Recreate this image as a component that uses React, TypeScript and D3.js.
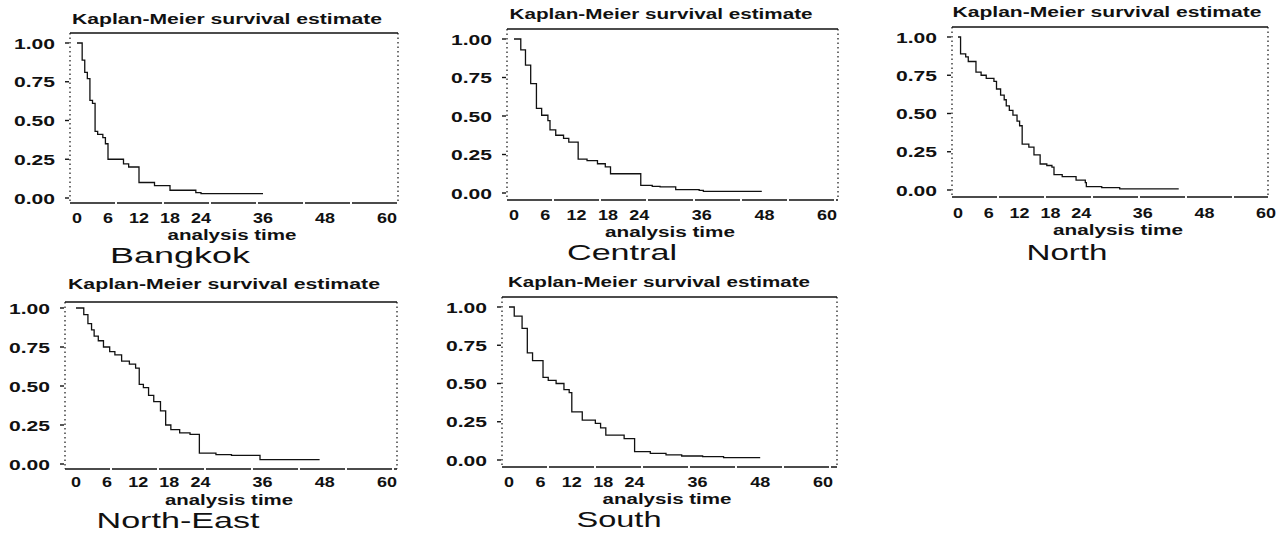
import React from "react";
import * as d3 from "d3";

// ---- data ----
const regions = ["Bangkok", "Central", "North", "North-East", "South"];
const xTickValues = [0, 6, 12, 18, 24, 36, 48, 60];
const yTickValues = [0, 0.25, 0.5, 0.75, 1];
const yTickLabels = ["0.00", "0.25", "0.50", "0.75", "1.00"];
const panelTitle = "Kaplan-Meier survival estimate";
const xAxisTitle = "analysis time";

const bangkokTime = [0, 1, 1.5, 2, 2.5, 3, 3.5, 4, 5, 5.5, 6, 9, 10, 12, 15, 18, 23, 24, 36];
const bangkokSurv = [1.0, 0.89, 0.81, 0.77, 0.63, 0.61, 0.43, 0.41, 0.39, 0.35, 0.25, 0.22, 0.2, 0.1, 0.08, 0.05, 0.035, 0.028, 0.028];

const centralTime = [0, 1.3, 2.2, 3.2, 4.3, 5.3, 6.5, 6.9, 8, 9.5, 10.5, 12.3, 14, 16, 17.5, 18.5, 24.3, 26.5, 28, 31, 35.5, 36.3, 47.5];
const centralSurv = [1.0, 0.93, 0.83, 0.71, 0.55, 0.505, 0.47, 0.41, 0.375, 0.355, 0.33, 0.22, 0.21, 0.19, 0.17, 0.125, 0.05, 0.043, 0.04, 0.022, 0.017, 0.011, 0.011];

const northTime = [0, 0.5, 1.5, 2, 3.5, 4.5, 5.5, 7, 7.5, 8.3, 9, 9.4, 10, 10.7, 11.5, 12, 12.5, 13.8, 14.8, 16, 17.3, 18.3, 18.7, 20.3, 23, 24.8, 25, 28, 31.5, 43];
const northSurv = [1.0, 0.89, 0.87, 0.84, 0.77, 0.75, 0.73, 0.71, 0.66, 0.62, 0.59, 0.55, 0.52, 0.49, 0.45, 0.42, 0.3, 0.28, 0.23, 0.17, 0.16, 0.15, 0.1, 0.087, 0.065, 0.048, 0.022, 0.015, 0.007, 0.007];

const northEastTime = [0, 1.5, 2.3, 3, 3.5, 4.3, 5.3, 6.5, 7.5, 8.8, 10.3, 11.5, 12.2, 13, 14, 15, 16.3, 17.3, 18.3, 20, 22, 23.8, 27, 30, 35.5, 47];
const northEastSurv = [1.0, 0.957, 0.9, 0.86, 0.82, 0.79, 0.75, 0.72, 0.7, 0.66, 0.64, 0.615, 0.51, 0.49, 0.44, 0.4, 0.34, 0.25, 0.22, 0.2, 0.19, 0.07, 0.06, 0.055, 0.028, 0.028];

const southTime = [0, 1, 2.5, 3.5, 4.5, 6.5, 7.5, 9, 10.5, 11.5, 12, 14, 16.5, 17.5, 18.5, 22, 24, 27, 30, 33, 37, 41, 48];
const southSurv = [1.0, 0.94, 0.86, 0.7, 0.65, 0.54, 0.52, 0.5, 0.46, 0.44, 0.315, 0.26, 0.24, 0.21, 0.163, 0.14, 0.055, 0.043, 0.033, 0.026, 0.022, 0.015, 0.015];

const seriesTimes = [bangkokTime, centralTime, northTime, northEastTime, southTime];
const seriesSurv = [bangkokSurv, centralSurv, northSurv, northEastSurv, southSurv];

// ---- layout (pixel geometry of each panel) ----
const panelLayout = [
  { L: 70, R: 398, T: 33, B: 203, x0: 77, x60: 387, y1: 43, y0: 198, titleX: 227, titleY: 24, titleW: 310, tickY: 223, axisX: 232, axisY: 240, axisW: 129, nameX: 180, nameY: 263, nameW: 140 },
  { L: 507, R: 838, T: 29, B: 200, x0: 514, x60: 827, y1: 39, y0: 193, titleX: 661, titleY: 19, titleW: 303, tickY: 220, axisX: 670, axisY: 237, axisW: 130, nameX: 622, nameY: 260, nameW: 110 },
  { L: 952, R: 1268, T: 27, B: 197, x0: 958, x60: 1266, y1: 37, y0: 190, titleX: 1107, titleY: 17, titleW: 309, tickY: 218, axisX: 1118, axisY: 235, axisW: 130, nameX: 1067, nameY: 260, nameW: 81 },
  { L: 65, R: 397, T: 302, B: 469, x0: 76, x60: 387, y1: 308, y0: 464, titleX: 224, titleY: 289, titleW: 312, tickY: 487, axisX: 229, axisY: 505, axisW: 128, nameX: 178, nameY: 528, nameW: 163 },
  { L: 502, R: 837, T: 297, B: 467, x0: 509, x60: 823, y1: 307, y0: 460, titleX: 659, titleY: 287, titleW: 302, tickY: 487, axisX: 667, axisY: 504, axisW: 129, nameX: 619, nameY: 527, nameW: 85 },
];

const FONT = "'Liberation Sans', Arial, Helvetica, sans-serif";
const INK = "#111";

function Panel({ idx }: { idx: number }) {
  const g = panelLayout[idx];
  const x = d3.scaleLinear().domain([0, 60]).range([g.x0, g.x60]);
  const y = d3.scaleLinear().domain([0, 1]).range([g.y0, g.y1]);
  const times = seriesTimes[idx];
  const surv = seriesSurv[idx];
  const pts: [number, number][] = times.map((t, i) => [t, surv[i]]);
  const line = d3
    .line<[number, number]>()
    .x((d) => x(d[0]))
    .y((d) => y(d[1]))
    .curve(d3.curveStepAfter);

  return (
    <g>
      {/* title */}
      <text
        x={g.titleX - g.titleW / 2}
        y={g.titleY}
        fontFamily={FONT}
        fontSize={14}
        fontWeight="bold"
        fill={INK}
        textLength={g.titleW}
        lengthAdjust="spacingAndGlyphs"
      >
        {panelTitle}
      </text>
      {/* frame */}
      <line x1={g.L} x2={g.R} y1={g.T} y2={g.T} stroke={INK} strokeWidth={1.6} />
      <line x1={g.L} x2={g.R} y1={g.B} y2={g.B} stroke={INK} strokeWidth={1.4} strokeDasharray="45,2" />
      <line x1={g.L} x2={g.L} y1={g.T} y2={g.B} stroke={INK} strokeWidth={1.2} strokeDasharray="1.5,3" />
      <line x1={g.R} x2={g.R} y1={g.T} y2={g.B} stroke={INK} strokeWidth={1.2} strokeDasharray="1.5,3" />
      {/* y ticks */}
      {yTickValues.map((v, i) => (
        <g key={"y" + i}>
          <line x1={g.L - 5} x2={g.L - 1} y1={y(v)} y2={y(v)} stroke={INK} strokeWidth={1.4} />
          <text
            x={g.L - 56}
            y={y(v) + 5.5}
            fontFamily={FONT}
            fontSize={15}
            fontWeight="bold"
            fill={INK}
            textLength={41}
            lengthAdjust="spacingAndGlyphs"
          >
            {yTickLabels[i]}
          </text>
        </g>
      ))}
      {/* x tick labels */}
      {xTickValues.map((v) => {
        const s = String(v);
        const w = s.length === 1 ? 10 : 20;
        return (
          <text
            key={"x" + v}
            x={x(v) - w / 2}
            y={g.tickY}
            fontFamily={FONT}
            fontSize={15}
            fontWeight="bold"
            fill={INK}
            textLength={w}
            lengthAdjust="spacingAndGlyphs"
          >
            {s}
          </text>
        );
      })}
      {/* axis title */}
      <text
        x={g.axisX - g.axisW / 2}
        y={g.axisY}
        fontFamily={FONT}
        fontSize={14}
        fontWeight="bold"
        fill={INK}
        textLength={g.axisW}
        lengthAdjust="spacingAndGlyphs"
      >
        {xAxisTitle}
      </text>
      {/* region name */}
      <text
        x={g.nameX - g.nameW / 2}
        y={g.nameY}
        fontFamily={FONT}
        fontSize={22}
        fill={INK}
        textLength={g.nameW}
        lengthAdjust="spacingAndGlyphs"
      >
        {regions[idx]}
      </text>
      {/* KM curve */}
      <path d={line(pts) || ""} fill="none" stroke={INK} strokeWidth={1.3} />
    </g>
  );
}

export default function App() {
  return (
    <svg
      width={1276}
      height={535}
      style={{ position: "absolute", left: 0, top: 0, display: "block", background: "#fff" }}
    >
      <rect x={0} y={0} width={1276} height={535} fill="#fff" />
      {regions.map((r, i) => (
        <Panel key={r} idx={i} />
      ))}
    </svg>
  );
}
